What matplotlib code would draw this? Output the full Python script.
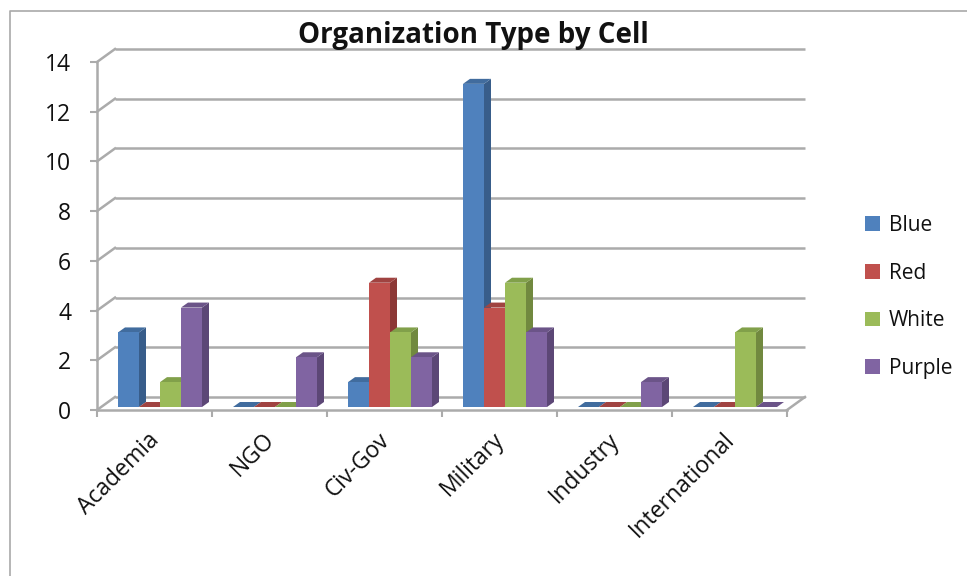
import numpy as np
import matplotlib
matplotlib.use("Agg")
import matplotlib.pyplot as plt
from matplotlib.patches import Polygon, Patch
from matplotlib.lines import Line2D
from matplotlib.transforms import ScaledTranslation

plt.rcParams['font.family'] = ['Open Sans', 'DejaVu Sans']

categories = ['Academia', 'NGO', 'Civ-Gov', 'Military', 'Industry', 'International']
series_names = ['Blue', 'Red', 'White', 'Purple']
blue = [3, 0, 1, 13, 0, 0]
red = [0, 0, 5, 4, 0, 0]
white = [1, 0, 3, 5, 0, 3]
purple = [4, 2, 2, 3, 1, 0]
y_ticks = [0, 2, 4, 6, 8, 10, 12, 14]

face_colors = ['#4F81BD', '#C0504D', '#9BBB59', '#8064A2']
side_colors = ['#385D8A', '#8C3836', '#71893F', '#5C4776']
top_colors = ['#416C9E', '#A04341', '#81A04A', '#6B5488']
AXIS_GREY = '#ABABAB'

W, H = 967, 576
fig = plt.figure(figsize=(W / 100, H / 100), dpi=100)
ax = fig.add_axes([97 / W, (H - 410) / H, 690 / W, 348 / H])
ax.set_xlim(0, len(categories))
ax.set_ylim(0, 14)

# sizes of one data unit in pixels, used for the fake 3d depth
PX_X = 690 / len(categories)
PX_Y = 348 / 14
wall_dx = 18 / PX_X
wall_dy = 13 / PX_Y
bar_dx = 7 / PX_X
bar_dy = 5 / PX_Y
bar_w = 21 / PX_X
bar_lift = 3 / PX_Y
bar_start = 21 / PX_X

# back wall gridlines, and the diagonal on the left wall
lw_axis = 1.8
for t in y_ticks:
    ax.plot([wall_dx, len(categories) + wall_dx], [t + wall_dy, t + wall_dy],
            color=AXIS_GREY, lw=lw_axis, clip_on=False, zorder=1, solid_capstyle='butt')
    ax.plot([0, wall_dx], [t, t + wall_dy], color=AXIS_GREY, lw=lw_axis, clip_on=False, zorder=1)

# floor edge on the right
n = len(categories)
ax.plot([n, n + wall_dx], [0, wall_dy], color=AXIS_GREY, lw=lw_axis, clip_on=False, zorder=1)

# bars
all_series = [blue, red, white, purple]
for j, vals in enumerate(all_series):
    xs = np.arange(n) + bar_start + j * bar_w
    ax.bar(xs, vals, width=bar_w, bottom=bar_lift, align='edge', color=face_colors[j],
           zorder=3 + j, clip_on=False, linewidth=0)
    for x, v in zip(xs, vals):
        y0 = bar_lift
        y1 = bar_lift + v
        # side face
        if v > 0:
            ax.add_patch(Polygon([(x + bar_w, y0), (x + bar_w + bar_dx, y0 + bar_dy),
                                  (x + bar_w + bar_dx, y1 + bar_dy), (x + bar_w, y1)],
                                 closed=True, fc=side_colors[j], ec='none', zorder=2.9 + j, clip_on=False))
        # top face
        ax.add_patch(Polygon([(x, y1), (x + bar_dx, y1 + bar_dy),
                              (x + bar_w + bar_dx, y1 + bar_dy), (x + bar_w, y1)],
                             closed=True, fc=top_colors[j], ec='none', zorder=2.9 + j, clip_on=False))

# axes, ticks and labels
for s in ['top', 'right']:
    ax.spines[s].set_visible(False)
for s in ['left', 'bottom']:
    ax.spines[s].set_color(AXIS_GREY)
    ax.spines[s].set_linewidth(lw_axis)
ax.patch.set_alpha(0)

ax.set_yticks(y_ticks)
ax.tick_params(axis='y', length=5, width=1.5, color=AXIS_GREY, labelsize=16.5, pad=13.5, labelcolor='#111111')
ax.set_xticks(np.arange(n + 1))
ax.set_xticklabels([])
ax.tick_params(axis='x', which='major', length=5, width=1.5, color=AXIS_GREY)
ax.set_xticks(np.arange(n) + 0.5, minor=True)
ax.set_xticklabels(categories, minor=True, rotation=45, ha='right', rotation_mode='anchor')
ax.tick_params(axis='x', which='minor', length=0, labelsize=16.5, pad=13, labelcolor='#111111')
shift = ScaledTranslation(-7 / 100, 0, fig.dpi_scale_trans)
for lab in ax.get_xticklabels(minor=True):
    lab.set_transform(lab.get_transform() + shift)

fig.text(473 / W, 1 - 35 / H, 'Organization Type by Cell', ha='center', va='center',
         fontsize=20, fontweight='bold', color='#111111')

handles = [Patch(fc=c, ec='none', label=name) for c, name in zip(face_colors, series_names)]
fig.legend(handles=handles, loc='center left', bbox_to_anchor=(846 / W, 1 - 297 / H), frameon=False,
           fontsize=15, handlelength=0.72, handleheight=0.72, handletextpad=0.43, labelspacing=1.28,
           labelcolor='#111111')

# outer chart frame, cut off by the screenshot
fig.add_artist(Line2D([10 / W, 10 / W, 1], [0, 1 - 11 / H, 1 - 11 / H], color='#A9A9A9', lw=1.2))

fig.savefig('out.png', dpi=100)
